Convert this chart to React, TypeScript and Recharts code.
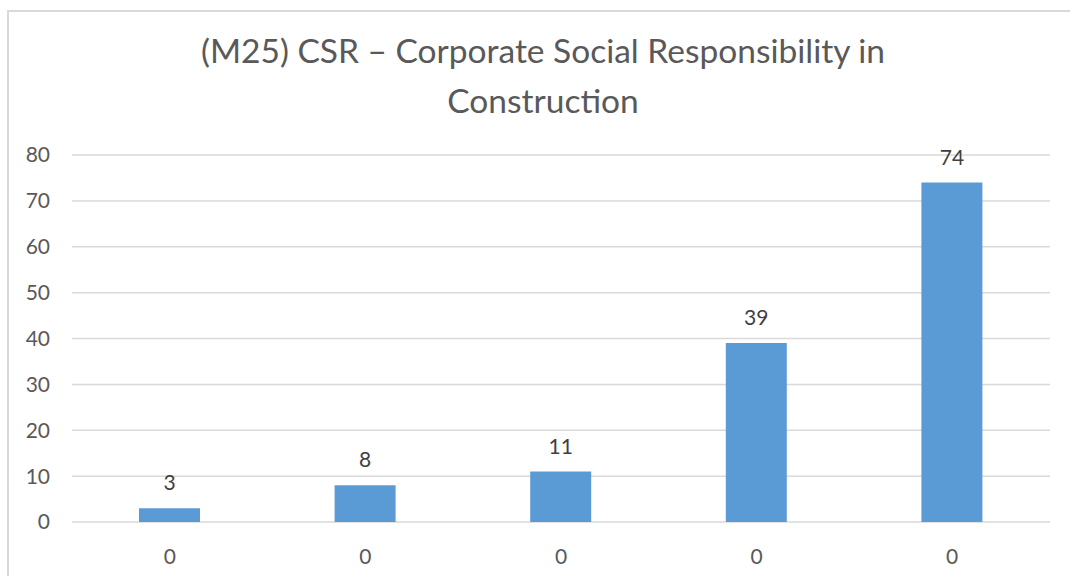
import React from 'react';
import { BarChart, Bar, XAxis, YAxis, CartesianGrid, LabelList } from 'recharts';

const titleLines = ['(M25) CSR – Corporate Social Responsibility in', 'Construction'];
const categories = ['c1', 'c2', 'c3', 'c4', 'c5'];
const xTickLabels = ['0', '0', '0', '0', '0'];
const values = [3, 8, 11, 39, 74];
const yTicks = [0, 10, 20, 30, 40, 50, 60, 70, 80];

const data = categories.map((c, i) => ({ cat: c, value: values[i] }));

const FONT = 'Lato, "Open Sans", sans-serif';

export default function App() {
  return (
    <div style={{ position: 'absolute', left: 0, top: 0, width: 1070, height: 576, background: '#fff', overflow: 'hidden', fontFamily: FONT }}>
      <div style={{ position: 'absolute', left: 7, top: 10, width: 1100, height: 600, borderLeft: '2px solid #d9d9d9', borderTop: '2px solid #d9d9d9', boxSizing: 'border-box' }} />
      <div style={{ position: 'absolute', left: 0, top: 25, width: 1086, textAlign: 'center', color: '#595959', fontSize: 33.5, lineHeight: '50px' }}>
        {titleLines.map((t, i) => (
          <div key={i}>{t}</div>
        ))}
      </div>
      <div style={{ position: 'absolute', left: 0, top: 0 }}>
        <BarChart width={1070} height={576} data={data} margin={{ top: 155, right: 20, bottom: 14, left: 0 }}>
          <CartesianGrid vertical={false} stroke="#d9d9d9" strokeWidth={1.5} />
          <XAxis
            dataKey="cat"
            axisLine={false}
            tickLine={false}
            tickSize={0}
            tickMargin={27}
            height={40}
            tick={{ fill: '#595959', fontSize: 21, fontFamily: FONT }}
            tickFormatter={(_v: any, i: number) => xTickLabels[i]}
          />
          <YAxis
            domain={[0, 80]}
            ticks={yTicks}
            width={72}
            axisLine={false}
            tickLine={false}
            tickSize={0}
            tickMargin={22}
            interval={0}
            tick={{ fill: '#595959', fontSize: 21, fontFamily: FONT }}
          />
          <Bar dataKey="value" fill="#5b9bd5" barSize={61} isAnimationActive={false}>
            <LabelList dataKey="value" position="top" offset={18} fill="#404040" fontSize={21} fontFamily={FONT} />
          </Bar>
        </BarChart>
      </div>
    </div>
  );
}
